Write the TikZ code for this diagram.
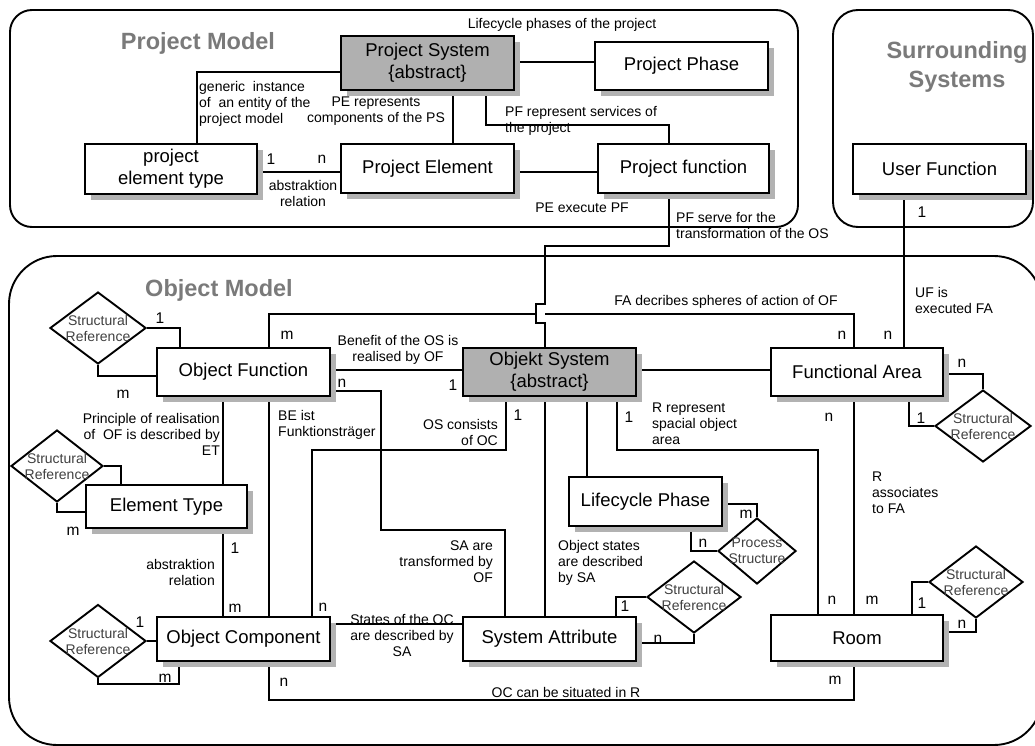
\documentclass[tikz,border=0pt]{standalone}
\usepackage{fontspec}
\setmainfont{Liberation Sans}
\usetikzlibrary{shapes.geometric,shadows,backgrounds}

\begin{document}
\begin{tikzpicture}[x=1pt,y=-1pt,
  box/.style={draw, line width=1.9pt, fill=white,
    drop shadow={shadow xshift=6pt, shadow yshift=-6pt, fill=black!30, opacity=1},
    inner sep=2pt, align=center, font=\fontsize{18.5}{22}\selectfont},
  absbox/.style={box, fill=black!31},
  sref/.style={draw, diamond, line width=1.9pt, inner sep=0pt,
    minimum width=96pt, minimum height=72pt},
  srtext/.style={inner sep=0pt, align=center, text=black!75,
    font=\fontsize{14}{16}\selectfont},
  lbl/.style={inner sep=0pt, font=\fontsize{14}{16}\selectfont},
  num/.style={inner sep=0pt, font=\fontsize{15.5}{16}\selectfont},
  title/.style={inner sep=0pt, align=center, text=black!52,
    font=\fontsize{23.5}{29}\selectfont\bfseries},
  frame/.style={draw, line width=1.9pt},
  link/.style={draw, line width=1.9pt}
]
\useasboundingbox (0,0) rectangle (1035,746);

% ---------- frames ----------
\draw[frame, rounded corners=22pt] (10,10) rectangle (798,227);
\draw[frame, rounded corners=25pt] (833,10) rectangle (1033,227);
\draw[frame, rounded corners=48pt] (9,256) rectangle (1042,745);

\node[title] (tpm) at (198,43) {Project Model};
\node[title] (tss) at (957,67) {Surrounding\\Systems};
\node[title] (tom) at (219,290) {Object Model};

% ---------- project model ----------
\node[absbox, minimum width=173pt, minimum height=54pt] (ps) at (427.5,63) {Project System\\\{abstract\}};
\node[box, minimum width=173pt, minimum height=48pt] (pp) at (681.5,66) {Project Phase};
\node[box, minimum width=172pt, minimum height=50pt] (pet) at (171,169) {project\\element type};
\node[box, minimum width=173pt, minimum height=49pt] (pe) at (427.5,168.5) {Project Element};
\node[box, minimum width=171pt, minimum height=49pt] (pf) at (683.5,168.5) {Project function};

% ---------- surrounding systems ----------
\node[box, minimum width=173pt, minimum height=50pt] (uf) at (939.5,169) {User Function};

% ---------- object model ----------
\node[box, minimum width=173pt, minimum height=48pt] (of) at (243.5,372) {Object Function};
\node[absbox, minimum width=173pt, minimum height=48pt] (os) at (549.5,372) {Objekt System\\\{abstract\}};
\node[box, minimum width=172pt, minimum height=48pt] (fa) at (857,372) {Functional Area};
\node[box, minimum width=161pt, minimum height=43pt] (et) at (166.5,506.5) {Element Type};
\node[box, minimum width=173pt, minimum height=44pt] (oc) at (243.5,639) {Object Component};
\node[box, minimum width=173pt, minimum height=44pt] (sa) at (549.5,639) {System Attribute};
\node[box, minimum width=153pt, minimum height=49pt] (lp) at (645.5,501.5) {Lifecycle Phase};
\node[box, minimum width=172pt, minimum height=46pt] (room) at (857,638) {Room};

% structural references and process structure
\node[sref] (sr1) at (98,328) {};
\node[srtext] (sr1t) at (sr1) {Structural\\Reference};
\node[sref, minimum width=92pt] (sr2) at (57,466) {};
\node[srtext] (sr2t) at (sr2) {Structural\\Reference};
\node[sref, minimum height=73pt] (sr3) at (98,641) {};
\node[srtext] (sr3t) at (sr3) {Structural\\Reference};
\node[sref] (sr4) at (983,426) {};
\node[srtext] (sr4t) at (sr4) {Structural\\Reference};
\node[sref, minimum width=94pt] (sr5) at (694,597) {};
\node[srtext] (sr5t) at (sr5) {Structural\\Reference};
\node[sref, minimum width=94pt] (sr6) at (976,582) {};
\node[srtext] (sr6t) at (sr6) {Structural\\Reference};
\node[sref, minimum width=78pt, minimum height=66pt] (pst) at (757,551) {};
\node[srtext] (pstt) at (pst) {Process\\Structure};

% ---------- connectors ----------
\begin{scope}[on background layer]
  % project model
  \draw[link] (ps.east |- 0,62) -- (pp.west |- 0,62);
  \draw[link] (ps.west |- 0,72) -| (pet.north -| 197,0);
  \draw[link] (ps.south -| 453,0) -- (pe.north -| 453,0);
  \draw[link] (ps.south -| 486,0) |- (669,125) -- (pf.north -| 669,0);
  \draw[link] (pet.east |- 0,172) -- (pe.west |- 0,172);
  \draw[link] (pe.east |- 0,172) -- (pf.west |- 0,172);
  % project function to object system, hopping over the FA line
  \draw[link] (pf.south -| 669,0) |- (545,246) -- (545,304) -- (536,304)
    -- (536,323) -- (545,323) -- (os.north -| 545,0);
  % user function
  \draw[link] (uf.south -| 904,0) -- (fa.north -| 904,0);
  % object function
  \draw[link] (sr1.east) -| (of.north -| 180,0);
  \draw[link] (sr1.south) |- (of.west |- 0,376);
  \coordinate (hopl) at (536,314);
  \coordinate (hopr) at (545,314);
  \draw[link] (of.north -| 269,0) |- (hopl);
  \draw[link] (hopr) -| (fa.north -| 854,0);
  \draw[link] (of.east |- 0,370) -- (os.west |- 0,370);
  \draw[link] (of.east |- 0,391) -| (381,530) -| (sa.north -| 505,0);
  \draw[link] (of.south -| 223,0) -- (et.north -| 223,0);
  \draw[link] (of.south -| 269,0) -- (oc.north -| 269,0);
  % element type
  \draw[link] (sr2.east) -| (et.north -| 121,0);
  \draw[link] (sr2.south) |- (et.west |- 0,512);
  \draw[link] (et.south -| 223,0) -- (oc.north -| 223,0);
  % object component
  \draw[link] (sr3.east) -- (oc.west |- sr3.east);
  \draw[link] (sr3.south) |- (179,684) -- (oc.south -| 179,0);
  \draw[link] (oc.east |- 0,624) -- (sa.west |- 0,624);
  \draw[link] (oc.south -| 269,0) |- (854,700) -- (room.south -| 854,0);
  % objekt system
  \draw[link] (os.south -| 506,0) |- (312,450) -- (oc.north -| 312,0);
  \draw[link] (os.south -| 545,0) -- (sa.north -| 545,0);
  \draw[link] (os.south -| 587,0) -- (lp.north -| 587,0);
  \draw[link] (os.south -| 617,0) |- (818,450) -- (room.north -| 818,0);
  \draw[link] (os.east |- 0,370) -- (fa.west |- 0,370);
  % functional area
  \draw[link] (fa.south -| 854,0) -- (room.north -| 854,0);
  \draw[link] (fa.east |- 0,374) -| (sr4.north);
  \draw[link] (fa.south -| 909,0) |- (sr4.west);
  % lifecycle phase
  \draw[link] (lp.east |- 0,504) -| (pst.north);
  \draw[link] (lp.south -| 691,0) |- (pst.west);
  % system attribute
  \draw[link] (sa.north -| 616,0) |- (sr5.west);
  \draw[link] (sa.east |- 0,643) -| (sr5.south);
  % room
  \draw[link] (room.north -| 912,0) |- (sr6.west);
  \draw[link] (room.east |- 0,632) -| (sr6.south);
\end{scope}

% ---------- connector labels ----------
\node[lbl] (l1) at (562,25) {Lifecycle phases of the project};
\node[lbl, align=left, anchor=west] (l2) at (199,104) {generic~ instance\\of~ an entity of the\\project model};
\node[lbl, align=center] (l3) at (376,111) {PE represents\\components of the PS};
\node[lbl, align=left, anchor=west] (l4) at (505,121) {PF represent services of\\the project};
\node[num] (n1) at (271,159) {1};
\node[num] (n2) at (322,159) {n};
\node[lbl, align=center] (l5) at (303,193) {abstraktion\\relation};
\node[lbl] (l6) at (582,208) {PE execute PF};
\node[lbl, align=left, anchor=west] (l7) at (676,225) {PF serve for the\\transformation of the OS};
\node[num] (n3) at (922,212) {1};
\node[lbl, align=left, anchor=west] (l8) at (915,300) {UF is\\executed FA};
\node[num] (n4) at (888,335) {n};

\node[num] (n5) at (160,318) {1};
\node[num] (n6) at (123,394) {m};
\node[num] (n7) at (287,335) {m};
\node[num] (n8) at (842,335) {n};
\node[lbl] (l9) at (726,302) {FA decribes spheres of action of OF};
\node[lbl, align=center] (l10) at (398,350) {Benefit of the OS is\\realised by OF};
\node[num] (n9) at (453,385) {1};
\node[num] (n10) at (342,383) {n};
\node[lbl, align=right, anchor=east] (l11) at (493,562) {SA are\\transformed by\\OF};
\node[lbl, align=right, anchor=east] (l12) at (220,434) {Principle of realisation\\of~ OF is described by\\ET};
\node[lbl, align=left, anchor=west] (l13) at (278,425) {BE ist\\Funktionsträger};
\node[num] (n11) at (73,531) {m};
\node[num] (n12) at (235,548) {1};
\node[lbl, align=right, anchor=east] (l14) at (215,572) {abstraktion\\relation};
\node[num] (n13) at (235,608) {m};
\node[num] (n14) at (140,622) {1};
\node[num] (n15) at (165,678) {m};
\node[num] (n16) at (323,607) {n};
\node[num] (n17) at (518,415) {1};
\node[lbl, align=right, anchor=east] (l15) at (498,432) {OS consists\\of OC};
\node[lbl, align=left, anchor=west] (l16) at (558,563) {Object states\\are described\\by SA};
\node[num] (n18) at (629,417) {1};
\node[lbl, align=left, anchor=west] (l17) at (652,424) {R represent\\spacial object\\area};
\node[num] (n19) at (832,600) {n};
\node[num] (n20) at (829,417) {n};
\node[lbl, align=left, anchor=west] (l18) at (872,493) {R\\associates\\to FA};
\node[num] (n21) at (872,600) {m};
\node[num] (n22) at (962,363) {n};
\node[num] (n23) at (921,418) {1};
\node[num] (n24) at (746,514) {m};
\node[num] (n25) at (703,543) {n};
\node[num] (n26) at (625,606) {1};
\node[num] (n27) at (658,639) {n};
\node[num] (n28) at (922,603) {1};
\node[num] (n29) at (962,624) {n};
\node[lbl, align=center] (l19) at (402,635) {States of the OC\\are described by\\SA};
\node[num] (n30) at (284,682) {n};
\node[num] (n31) at (835,680) {m};
\node[lbl] (l20) at (566,692) {OC can be situated in R};
\end{tikzpicture}
\end{document}
